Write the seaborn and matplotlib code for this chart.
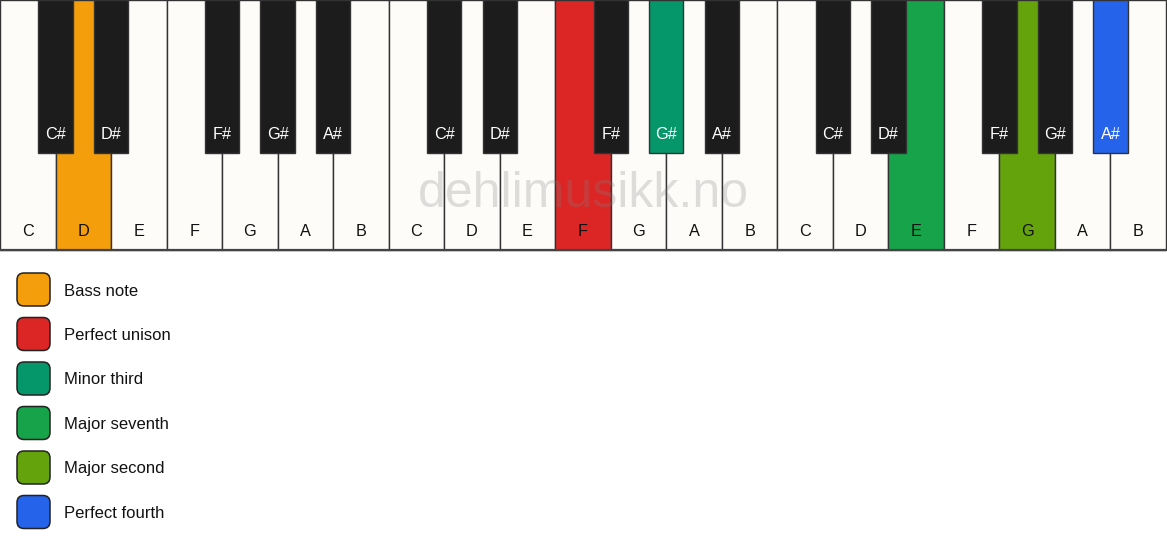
import matplotlib
matplotlib.use("Agg")
import matplotlib.pyplot as plt
from matplotlib.patches import FancyBboxPatch
import seaborn as sns
import pandas as pd

# ---- data ----
white_names = ["C", "D", "E", "F", "G", "A", "B"]
black_names = ["C#", "D#", "F#", "G#", "A#"]
black_after_white = [0, 1, 3, 4, 5]   # black key sits after this white key (within octave)
n_octaves = 3

highlight_keys = ["D1", "F2", "G#2", "E3", "G3", "A#3"]
highlight_labels = ["Bass note", "Perfect unison", "Minor third",
                    "Major seventh", "Major second", "Perfect fourth"]
highlight_colors = ["#F59E0B", "#DC2626", "#059669", "#16A34A", "#65A30D", "#2563EB"]
highlight_textcolors = ["#111111", "#111111", "#FFFFFF", "#111111", "#111111", "#FFFFFF"]

watermark = "dehlimusikk.no"

# ---- style ----
sns.set_theme(style="white")
plt.rcParams["font.family"] = ["Liberation Sans", "DejaVu Sans"]

W_PX, H_PX = 1167, 550
fig = plt.figure(figsize=(W_PX / 100, H_PX / 100), dpi=100)
fig.patch.set_facecolor("white")
ax = fig.add_axes([0, 0, 1, 1])
ax.set_xlim(0, W_PX)
ax.set_ylim(H_PX, 0)
ax.axis("off")

KB_W = 1166.0
KW = KB_W / (7 * n_octaves)
KB_H = 249.5
BK_H = 153
BK_W = KW * 0.62
WHITE = "#FDFCF9"
BLACK = "#1C1C1C"
EDGE = "#333333"

hl_color = dict(zip(highlight_keys, highlight_colors))
hl_text = dict(zip(highlight_keys, highlight_textcolors))

rows = []
for o in range(n_octaves):
    for j, n in enumerate(white_names):
        key = f"{n}{o+1}"
        rows.append(dict(kind="white", name=n, key=key, x=(o * 7 + j) * KW))
    for j, n in enumerate(black_names):
        key = f"{n}{o+1}"
        rows.append(dict(kind="black", name=n, key=key, x=(o * 7 + black_after_white[j] + 1) * KW))
df = pd.DataFrame(rows)

wdf = df[df.kind == "white"]
ax.bar(wdf.x, KB_H, width=KW, bottom=0, align="edge",
       color=[hl_color.get(k, WHITE) for k in wdf.key],
       edgecolor=EDGE, linewidth=1.0, zorder=1)
for _, r in wdf.iterrows():
    ax.text(r.x + KW / 2, 231.5, r["name"], ha="center", va="center", fontsize=11.7,
            color=hl_text.get(r.key, "#111111"), zorder=5)

bdf = df[df.kind == "black"]
ax.bar(bdf.x, BK_H, width=BK_W, bottom=0, align="center",
       color=[hl_color.get(k, BLACK) for k in bdf.key],
       edgecolor=EDGE, linewidth=1.0, zorder=3)
for _, r in bdf.iterrows():
    ax.text(r.x, 134.5, r["name"], ha="center", va="center", fontsize=11.7,
            color=hl_text.get(r.key, "#FFFFFF"), zorder=5)

# bottom border
ax.plot([0, KB_W], [KB_H, KB_H], color="#444444", lw=1.6, zorder=4)

# watermark
ax.text(583, 194, watermark, ha="center", va="center", fontsize=36,
        color="#808080", alpha=0.25, zorder=6)

# legend
for i, (lab, col) in enumerate(zip(highlight_labels, highlight_colors)):
    cy = 289.5 + i * 44.5
    box = FancyBboxPatch((17, cy - 16.5), 33, 33,
                         boxstyle="round,pad=0,rounding_size=7",
                         facecolor=col, edgecolor="#222222", linewidth=1.1, zorder=3)
    ax.add_patch(box)
    ax.text(64, cy + 1.5, lab, ha="left", va="center", fontsize=12, color="#111111")

fig.savefig("out.png", dpi=100, facecolor="white")
